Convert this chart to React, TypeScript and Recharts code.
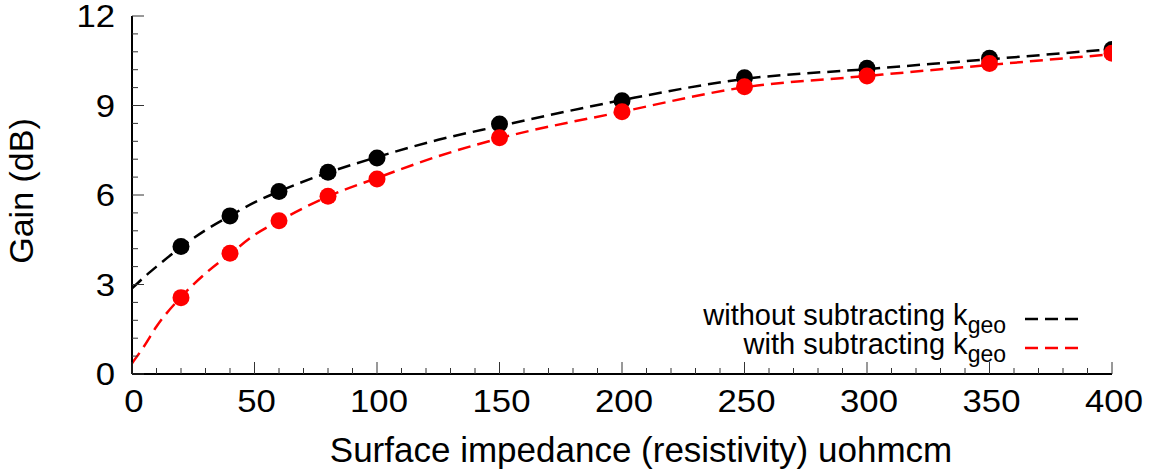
import {
  ComposedChart,
  Line,
  Scatter,
  XAxis,
  YAxis,
  Legend
} from "recharts";

// measured points
const resistivity = [20, 40, 60, 80, 100, 150, 200, 250, 300, 350, 400];
const gainWithout = [4.27, 5.3, 6.12, 6.76, 7.24, 8.38, 9.16, 9.93, 10.25, 10.58, 10.88];
const gainWith = [2.56, 4.05, 5.14, 5.96, 6.54, 7.92, 8.79, 9.63, 9.99, 10.41, 10.75];

// fitted curves
const fitX = [0, 5, 10, 20, 30, 40, 50, 60, 80, 100, 125, 150, 200, 250, 300, 350, 400];
const fitWithout = [2.87, 3.25, 3.6, 4.25, 4.82, 5.3, 5.75, 6.12, 6.75, 7.27, 7.85, 8.31, 9.18, 9.89, 10.22, 10.55, 10.89];
const fitWith = [0.36, 0.94, 1.59, 2.58, 3.37, 4.02, 4.66, 5.13, 5.95, 6.57, 7.3, 7.9, 8.79, 9.61, 9.99, 10.36, 10.72];

const xTicks = [
  0, 10, 20, 30, 40, 50, 60, 70, 80, 90, 100, 110, 120, 130, 140, 150, 160, 170, 180, 190, 200,
  210, 220, 230, 240, 250, 260, 270, 280, 290, 300, 310, 320, 330, 340, 350, 360, 370, 380, 390, 400
];
const yTicks = [
  0, 0.6, 1.2, 1.8, 2.4, 3, 3.6, 4.2, 4.8, 5.4, 6, 6.6, 7.2, 7.8, 8.4, 9, 9.6, 10.2, 10.8, 11.4, 12
];

const seriesNames = ["without subtracting k", "with subtracting k"];
const seriesColors = ["#000000", "#ff0000"];

const FONT = "'Liberation Sans', Arial, Helvetica, sans-serif";

const pointsWithout = resistivity.map((x, i) => ({ x, y: gainWithout[i] }));
const pointsWith = resistivity.map((x, i) => ({ x, y: gainWith[i] }));
const curveWithout = fitX.map((x, i) => ({ x, y: fitWithout[i] }));
const curveWith = fitX.map((x, i) => ({ x, y: fitWith[i] }));

const isMajorX = (v: number) => v % 50 === 0;
const isMajorY = (v: number) => Math.abs(v / 3 - Math.round(v / 3)) < 1e-6;

function BottomTick({ x, y, payload }: any) {
  const major = isMajorX(payload.value);
  return (
    <g>
      <line x1={x} y1={y} x2={x} y2={y - (major ? 12 : 6)} stroke="#333" strokeWidth={1} />
      {major && (
        <text
          transform={`translate(${x + 2},${y + 38}) scale(1.12,1)`}
          textAnchor="middle"
          fontSize={31}
          fontFamily={FONT}
          fill="#000"
        >
          {payload.value}
        </text>
      )}
    </g>
  );
}

function TopTick({ x, y, payload }: any) {
  const major = isMajorX(payload.value);
  return <line x1={x} y1={y} x2={x} y2={y + (major ? 12 : 6)} stroke="#333" strokeWidth={1} />;
}

function LeftTick({ x, y, payload }: any) {
  const major = isMajorY(payload.value);
  return (
    <g>
      <line x1={x} y1={y} x2={x + (major ? 12 : 6)} y2={y} stroke="#333" strokeWidth={1} />
      {major && (
        <text
          transform={`translate(${x - 17},${y}) scale(1.12,1)`}
          dy="0.36em"
          textAnchor="end"
          fontSize={31}
          fontFamily={FONT}
          fill="#000"
        >
          {Math.round(payload.value)}
        </text>
      )}
    </g>
  );
}

function RightTick({ x, y, payload }: any) {
  const major = isMajorY(payload.value);
  return <line x1={x} y1={y} x2={x - (major ? 12 : 6)} y2={y} stroke="#333" strokeWidth={1} />;
}

function Dot(color: string) {
  return (props: any) => <circle cx={props.cx} cy={props.cy} r={8.5} fill={color} />;
}

function KeyBox() {
  return (
    <svg width={520} height={80} style={{ position: "absolute", left: 600, top: 290 }}>
      {seriesNames.map((name, i) => (
        <g key={name}>
          <text
            x={406}
            y={35 + i * 29}
            textAnchor="end"
            fontSize={29}
            fontFamily={FONT}
            fill="#000"
          >
            {name}
            <tspan dy={8} fontSize={23}>geo</tspan>
          </text>
          <line
            x1={425}
            x2={478}
            y1={29 + i * 29}
            y2={29 + i * 29}
            stroke={seriesColors[i]}
            strokeWidth={2.5}
            strokeDasharray="13 7"
          />
        </g>
      ))}
    </svg>
  );
}

export default function App() {
  return (
    <div style={{ position: "absolute", left: 0, top: 0, fontFamily: FONT }}>
      <ComposedChart
        width={1153}
        height={472}
        margin={{ top: 16, right: 41, bottom: 0, left: 0 }}
      >
        <XAxis
          dataKey="x"
          type="number"
          domain={[0, 400]}
          ticks={xTicks}
          interval={0}
          tickSize={0}
          tickMargin={0}
          tickLine={false}
          tick={BottomTick}
          height={98}
          axisLine={{ stroke: "#000", strokeWidth: 2 }}
          allowDataOverflow
          label={{
            value: "Surface impedance (resistivity) uohmcm",
            content: () => (
              <text x={641} y={462} textAnchor="middle" fontSize={35} fontFamily={FONT} fill="#000">
                Surface impedance (resistivity) uohmcm
              </text>
            )
          }}
        />
        <XAxis
          xAxisId="top"
          orientation="top"
          dataKey="x"
          type="number"
          domain={[0, 400]}
          ticks={xTicks}
          interval={0}
          tickSize={0}
          tickMargin={0}
          tickLine={false}
          tick={TopTick}
          height={0}
          axisLine={{ stroke: "#000", strokeWidth: 2 }}
        />
        <YAxis
          type="number"
          domain={[0, 12]}
          ticks={yTicks}
          interval={0}
          tickSize={0}
          tickMargin={0}
          tickLine={false}
          tick={LeftTick}
          width={132}
          axisLine={{ stroke: "#000", strokeWidth: 2 }}
          allowDataOverflow
          label={{
            value: "Gain (dB)",
            content: () => (
              <text
                transform="translate(33,191) rotate(-90)"
                textAnchor="middle"
                fontSize={34}
                fontFamily={FONT}
                fill="#000"
              >
                Gain (dB)
              </text>
            )
          }}
        />
        <YAxis
          yAxisId="right"
          orientation="right"
          type="number"
          domain={[0, 12]}
          ticks={yTicks}
          interval={0}
          tickSize={0}
          tickMargin={0}
          tickLine={false}
          tick={RightTick}
          width={0}
          axisLine={{ stroke: "#000", strokeWidth: 2 }}
        />
        <Legend
          layout="vertical"
          align="center"
          verticalAlign="middle"
          content={KeyBox}
          wrapperStyle={{ left: 0, top: 0, width: 0, height: 0 }}
        />
        <Scatter
          data={pointsWithout}
          dataKey="y"
          shape={Dot(seriesColors[0])}
          isAnimationActive={false}
          legendType="none"
        />
        <Line
          data={curveWithout}
          dataKey="y"
          type="monotone"
          stroke={seriesColors[0]}
          strokeWidth={2.5}
          strokeDasharray="13 7"
          dot={false}
          activeDot={false}
          isAnimationActive={false}
          legendType="none"
        />
        <Scatter
          data={pointsWith}
          dataKey="y"
          shape={Dot(seriesColors[1])}
          isAnimationActive={false}
          legendType="none"
        />
        <Line
          data={curveWith}
          dataKey="y"
          type="monotone"
          stroke={seriesColors[1]}
          strokeWidth={2.5}
          strokeDasharray="13 7"
          dot={false}
          activeDot={false}
          isAnimationActive={false}
          legendType="none"
        />
      </ComposedChart>
    </div>
  );
}
